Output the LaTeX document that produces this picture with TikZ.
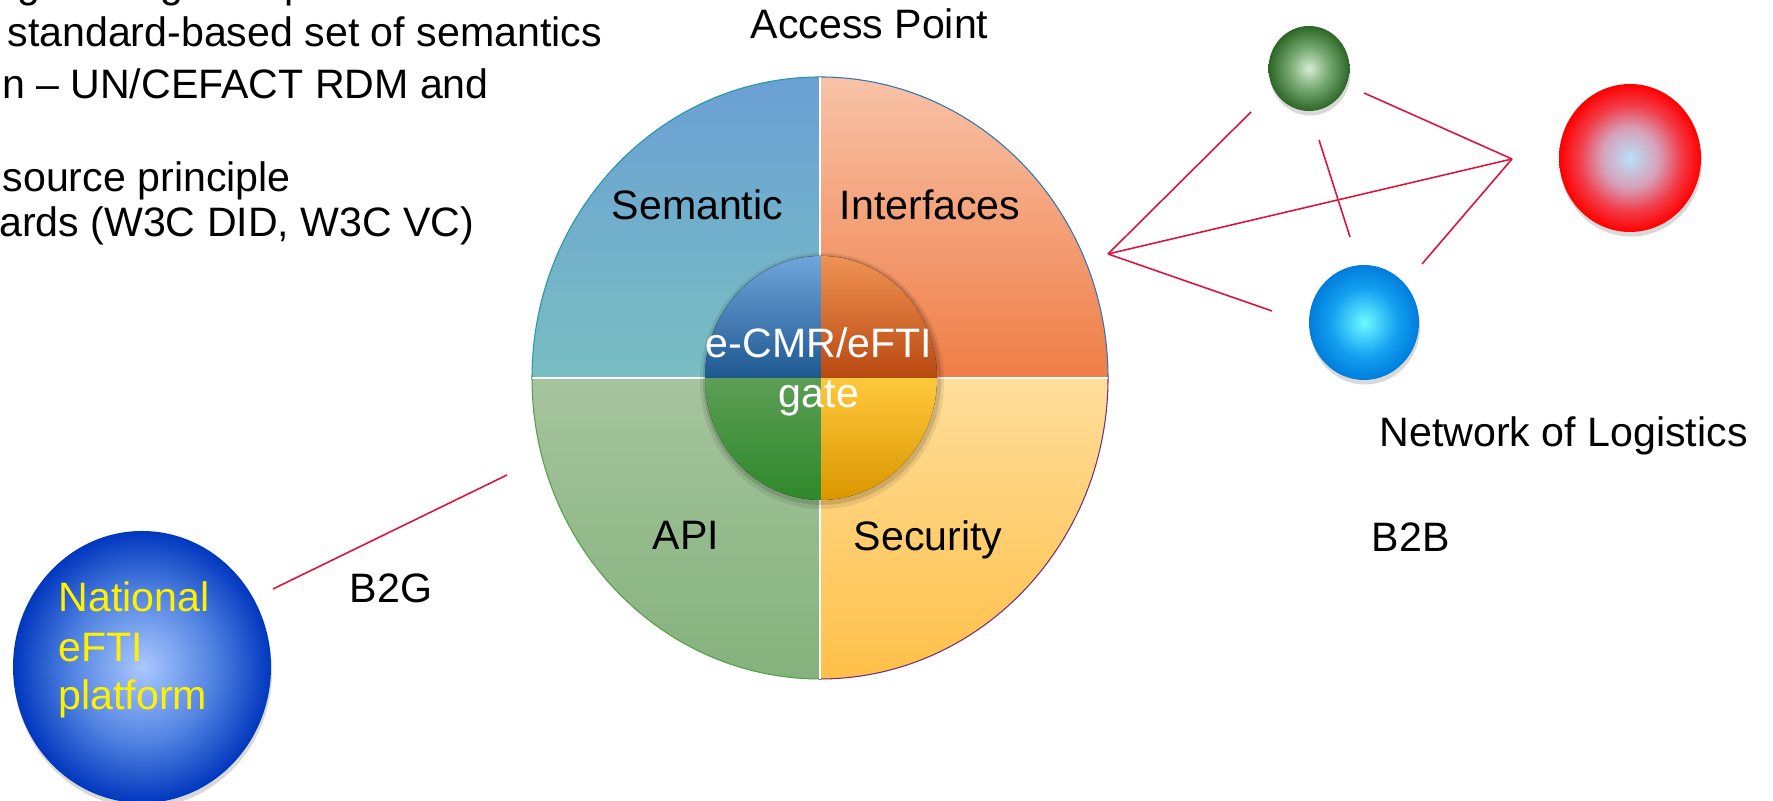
\documentclass[tikz,border=0pt]{standalone}
\usepackage{fontspec}
\setmainfont{Liberation Sans}
\usetikzlibrary{shapes.geometric,shadows}
%
\definecolor{semtop}{RGB}{106,160,212}
\definecolor{sembot}{RGB}{121,190,194}
\definecolor{semline}{RGB}{40,150,165}
\definecolor{inftop}{RGB}{248,194,167}
\definecolor{infbot}{RGB}{240,125,70}
\definecolor{infline}{RGB}{46,117,182}
\definecolor{apitop}{RGB}{166,196,158}
\definecolor{apibot}{RGB}{132,178,124}
\definecolor{apiline}{RGB}{84,160,70}
\definecolor{sectop}{RGB}{255,221,155}
\definecolor{secbot}{RGB}{255,192,72}
\definecolor{secline}{RGB}{112,48,120}
%
\definecolor{gsemtop}{RGB}{111,165,218}
\definecolor{gsembot}{RGB}{30,88,145}
\definecolor{ginftop}{RGB}{240,146,85}
\definecolor{ginfbot}{RGB}{185,72,15}
\definecolor{gapitop}{RGB}{92,158,85}
\definecolor{gapibot}{RGB}{46,136,42}
\definecolor{gsectop}{RGB}{255,200,60}
\definecolor{gsecbot}{RGB}{218,150,0}
%
\definecolor{linkred}{RGB}{220,20,60}
%
\definecolor{grnlite}{RGB}{215,236,210}
\definecolor{grnmid}{RGB}{120,170,115}
\definecolor{grndark}{RGB}{44,102,38}
\definecolor{redlite}{RGB}{185,225,250}
\definecolor{redmid}{RGB}{215,160,185}
\definecolor{redhot}{RGB}{242,60,72}
\definecolor{reddark}{RGB}{255,0,0}
\definecolor{blulite}{RGB}{110,250,255}
\definecolor{blumid}{RGB}{20,160,240}
\definecolor{bludark}{RGB}{0,125,220}
\definecolor{natlite}{RGB}{170,200,255}
\definecolor{natmid}{RGB}{80,130,225}
\definecolor{natdark}{RGB}{0,55,190}
%
\pgfdeclareradialshading{grnball}{\pgfpoint{0bp}{0bp}}{color(0bp)=(grnlite); color(12bp)=(grnmid); color(25bp)=(grndark); color(50bp)=(grndark)}
\pgfdeclareradialshading{redball}{\pgfpoint{0bp}{0bp}}{color(0bp)=(redlite); color(10bp)=(redmid); color(18bp)=(redhot); color(25bp)=(reddark); color(50bp)=(reddark)}
\pgfdeclareradialshading{bluball}{\pgfpoint{0bp}{0bp}}{color(0bp)=(blulite); color(15bp)=(blumid); color(25bp)=(bludark); color(50bp)=(bludark)}
\pgfdeclareradialshading{natball}{\pgfpoint{0bp}{0bp}}{color(0bp)=(natlite); color(14bp)=(natmid); color(25bp)=(natdark); color(50bp)=(natdark)}
%
\tikzset{
  lbl/.style={inner sep=0pt,anchor=base west,font=\fontsize{11.7}{14}\selectfont},
  gatelbl/.style={lbl,anchor=base,text=white},
  natlbl/.style={lbl,text=yellow},
  link/.style={draw=linkred,line width=0.45pt},
  quad/.style={line width=0.3pt},
  ball/.style={ellipse,inner sep=0pt,drop shadow={opacity=0.3,shadow xshift=0.3pt,shadow yshift=-1.3pt}},
}
\begin{document}
\begin{tikzpicture}
\useasboundingbox (0,0) rectangle (17.73,8.01);
%
\node at (0.068,7.54) [lbl] (txt1) {standard-based set of semantics};
\node at (0.013,7.02) [lbl] (txt2) {n -- UN/CEFACT RDM and};
\node at (0.02,6.09) [lbl] (txt3) {source principle};
\node at (-0.015,5.64) [lbl] (txt4) {ards (W3C DID, W3C VC)};
\node at (0.17,8.03) [lbl] (cut1) {g};
\node at (1.60,8.03) [lbl] (cut2) {g};
\node at (2.84,8.03) [lbl] (cut3) {p};
%
\draw[quad,top color=semtop,bottom color=sembot,draw=semline] (8.20,4.23) -- (8.20,7.24) arc[start angle=90,end angle=180,x radius=2.88,y radius=3.01] -- cycle;
\draw[quad,top color=inftop,bottom color=infbot,draw=infline] (8.20,4.23) -- (11.08,4.23) arc[start angle=0,end angle=90,x radius=2.88,y radius=3.01] -- cycle;
\draw[quad,top color=apitop,bottom color=apibot,draw=apiline] (8.20,4.23) -- (5.32,4.23) arc[start angle=180,end angle=270,x radius=2.88,y radius=3.01] -- cycle;
\draw[quad,top color=sectop,bottom color=secbot,draw=secline] (8.20,4.23) -- (8.20,1.22) arc[start angle=270,end angle=360,x radius=2.88,y radius=3.01] -- cycle;
\draw[white,line width=0.4pt] (5.32,4.23) -- (11.08,4.23);
\draw[white,line width=0.4pt] (8.20,1.22) -- (8.20,7.24);
%
\fill[black,opacity=0.08] (8.22,4.20) ellipse [x radius=1.22,y radius=1.28];
\fill[black,opacity=0.12] (8.22,4.21) ellipse [x radius=1.19,y radius=1.25];
\fill[top color=gsemtop,bottom color=gsembot] (8.21,4.23) -- (8.21,5.45) arc[start angle=90,end angle=180,x radius=1.16,y radius=1.22] -- cycle;
\fill[top color=ginftop,bottom color=ginfbot] (8.21,4.23) -- (9.37,4.23) arc[start angle=0,end angle=90,x radius=1.16,y radius=1.22] -- cycle;
\fill[top color=gapitop,bottom color=gapibot] (8.21,4.23) -- (7.05,4.23) arc[start angle=180,end angle=270,x radius=1.16,y radius=1.22] -- cycle;
\fill[top color=gsectop,bottom color=gsecbot] (8.21,4.23) -- (8.21,3.01) arc[start angle=270,end angle=360,x radius=1.16,y radius=1.22] -- cycle;
%
\node at (7.50,7.62) [lbl] (ap) {Access Point};
\node at (6.11,5.81) [lbl] (sem) {Semantic};
\node at (8.39,5.81) [lbl] (inf) {Interfaces};
\node at (6.52,2.51) [lbl] (api) {API};
\node at (8.53,2.50) [lbl] (sec) {Security};
\node at (8.19,4.43) [gatelbl] (gate1) {e-CMR/eFTI};
\node at (8.19,3.93) [gatelbl] (gate2) {gate};
%
\node at (13.09,7.325) [ball,shading=grnball,minimum width=0.81cm,minimum height=0.85cm] (grn) {};
\node at (16.30,6.43) [ball,shading=redball,minimum width=1.42cm,minimum height=1.48cm] (red) {};
\node at (13.64,4.785) [ball,shading=bluball,minimum width=1.10cm,minimum height=1.15cm] (blu) {};
\node at (1.42,1.34) [ball,shading=natball,minimum width=2.58cm,minimum height=2.72cm] (natl) {};
%
\node at (0.58,1.89) [natlbl] (nat1) {National};
\node at (0.58,1.39) [natlbl] (nat2) {eFTI};
\node at (0.58,0.91) [natlbl] (nat3) {platform};
%
\node at (13.79,3.54) [lbl] (net) {Network of Logistics};
\node at (13.71,2.49) [lbl] (btob) {B2B};
\node at (3.49,1.98) [lbl] (btog) {B2G};
%
\coordinate (hub) at (11.08,5.47);
\coordinate (rhub) at (15.12,6.42);
\coordinate (toG) at (12.51,6.89);
\coordinate (toB) at (12.72,4.90);
\coordinate (fromG) at (13.64,7.08);
\coordinate (toB2) at (14.22,5.37);
\coordinate (gdown) at (13.19,6.61);
\coordinate (bup) at (13.50,5.64);
\coordinate (natend) at (2.73,2.12);
\coordinate (ringend) at (5.07,3.26);
%
\draw[link] (hub) -- (toG);
\draw[link] (hub) -- (rhub);
\draw[link] (hub) -- (toB);
\draw[link] (fromG) -- (rhub);
\draw[link] (rhub) -- (toB2);
\draw[link] (gdown) -- (bup);
\draw[link] (natend) -- (ringend);
\end{tikzpicture}
\end{document}
